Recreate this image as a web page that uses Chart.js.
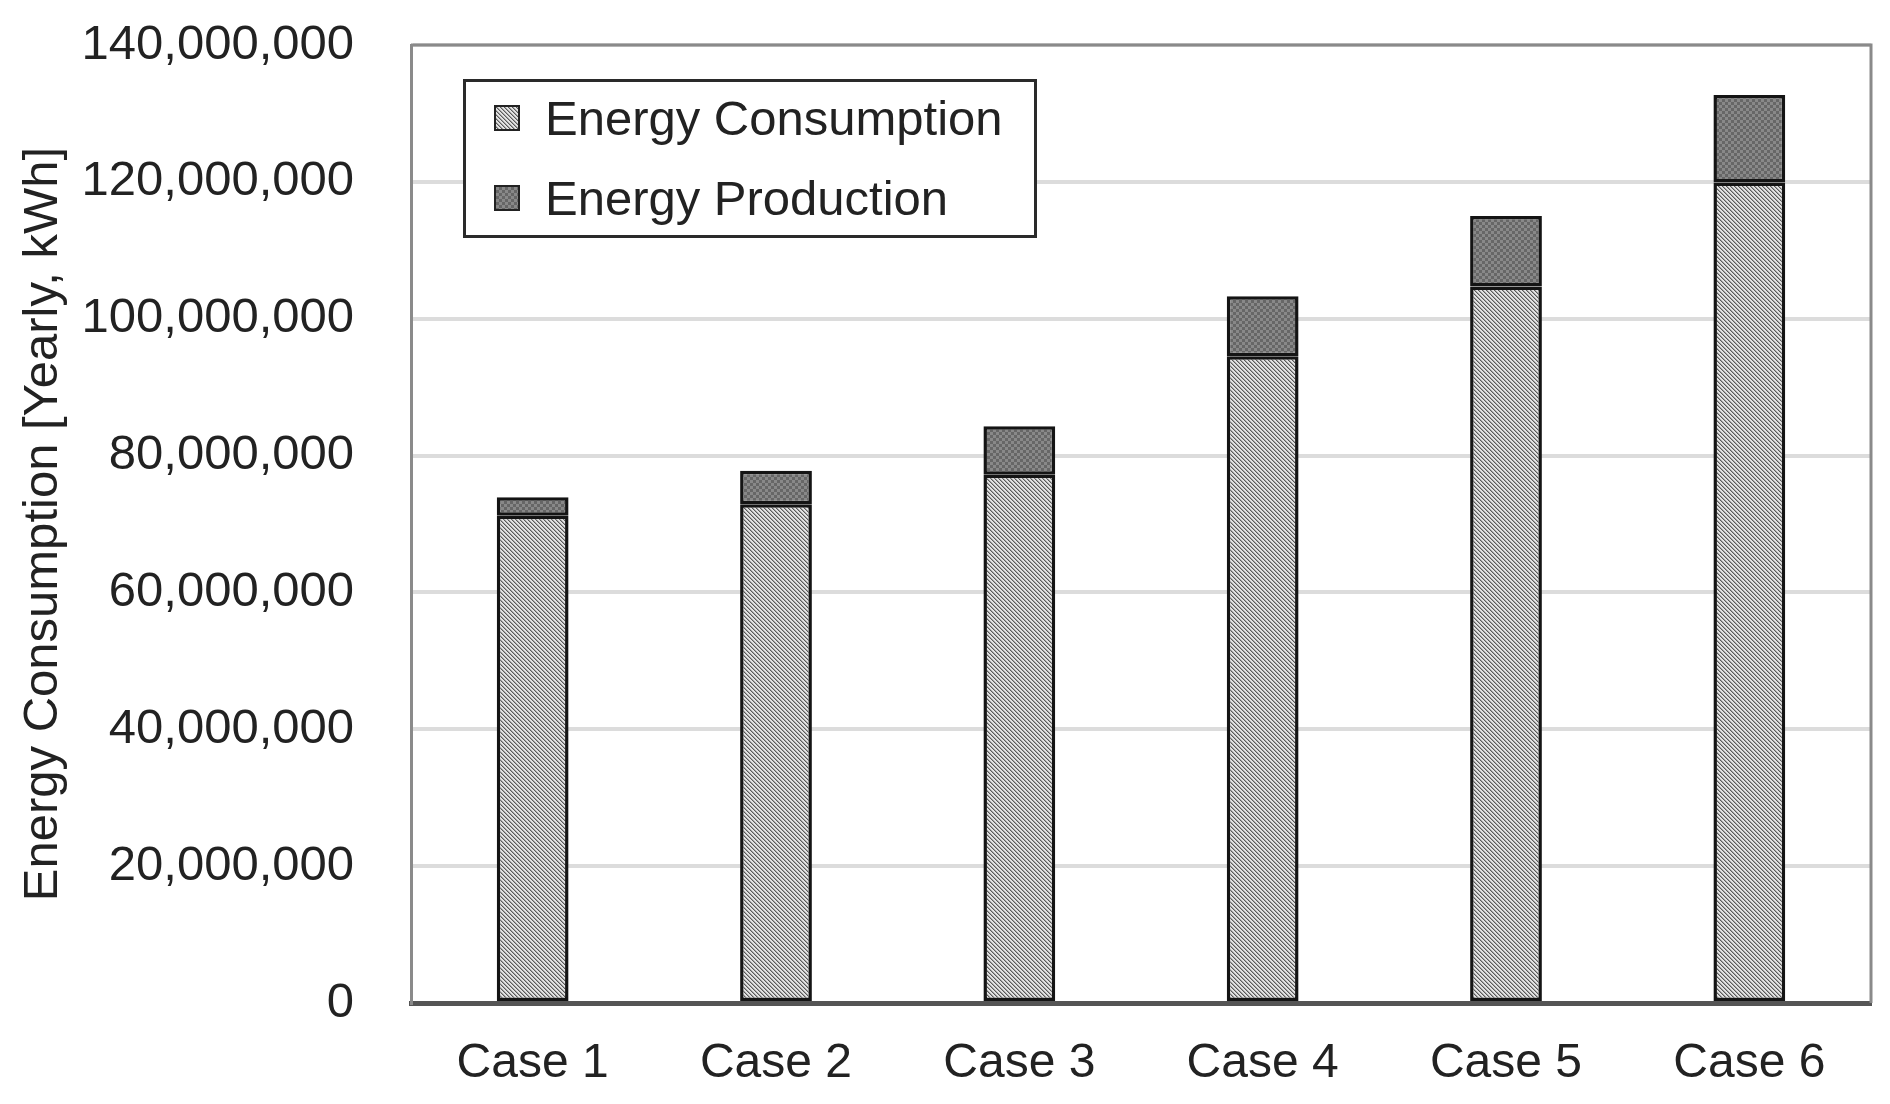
<!DOCTYPE html>
<html>
<head>
<meta charset="utf-8">
<script src="https://cdn.jsdelivr.net/npm/chart.js@4.4.1/dist/chart.umd.min.js"></script>
<style>
  html, body { margin: 0; padding: 0; background: #fff; }
  #wrap { position: relative; width: 1890px; height: 1104px; }
  #legend {
    position: absolute; left: 463px; top: 79px; width: 574px; height: 159px;
    box-sizing: border-box; border: 3px solid #2a2a2a; background: #fff;
    font-family: "Liberation Sans", Arial, sans-serif; font-size: 49px; color: #222;
  }
  #legend .item { position: absolute; left: 28px; height: 58px; display: flex; align-items: center; }
  #legend .sw { width: 22px; height: 22px; border: 2px solid #222; margin-right: 25px; }
</style>
</head>
<body>
<div id="wrap">
  <canvas id="c"></canvas>
  <div id="legend"></div>
</div>
<script>
const categories = ['Case 1', 'Case 2', 'Case 3', 'Case 4', 'Case 5', 'Case 6'];
const consumption = [71200000, 72900000, 77200000, 94500000, 104700000, 119900000];
const production = [2700000, 4900000, 7100000, 8800000, 10300000, 12800000];
const seriesNames = ['Energy Consumption', 'Energy Production'];
const yMin = 0, yMax = 140000000, yStep = 20000000;

function makeTile(size, colorAt) {
  const cv = document.createElement('canvas');
  cv.width = size; cv.height = size;
  const g = cv.getContext('2d');
  for (let y = 0; y < size; y++) {
    for (let x = 0; x < size; x++) {
      g.fillStyle = colorAt(x, y);
      g.fillRect(x, y, 1, 1);
    }
  }
  return cv;
}

// light diagonal hatch for consumption, dark checker for production
const hatchTile = makeTile(4, (x, y) => {
  const d = ((x - y) % 4 + 4) % 4;
  return d === 0 ? '#5a5a5a' : d === 1 ? '#a4a4a4' : '#e2e2e2';
});
const checkTile = makeTile(6, (x, y) => (((x / 3 | 0) + (y / 3 | 0)) % 2 ? '#666' : '#888'));

const ctx = document.getElementById('c').getContext('2d');
const hatch = ctx.createPattern(hatchTile, 'repeat');
const check = ctx.createPattern(checkTile, 'repeat');

const tiles = [hatchTile, checkTile];
const legend = document.getElementById('legend');
seriesNames.forEach((name, i) => {
  const it = document.createElement('div');
  it.className = 'item';
  it.style.top = (7 + i * 80) + 'px';
  it.innerHTML = `<span class="sw" style="background-image:url(${tiles[i].toDataURL()})"></span><span>${name}</span>`;
  legend.appendChild(it);
});

const frame = {
  id: 'frame',
  beforeDatasetsDraw(chart) {
    const { ctx, chartArea: a } = chart;
    ctx.save();
    ctx.strokeStyle = '#8a8a8a';
    ctx.lineWidth = 3;
    ctx.beginPath();
    ctx.moveTo(a.left, a.top);
    ctx.lineTo(a.right, a.top);
    ctx.lineTo(a.right, a.bottom);
    ctx.stroke();
    ctx.restore();
  }
};

const font = { family: '"Liberation Sans", Arial, sans-serif', size: 49 };

new Chart(ctx, {
  type: 'bar',
  data: {
    labels: categories,
    datasets: [
      { label: seriesNames[0], data: consumption, backgroundColor: hatch, borderColor: '#141414', borderWidth: 3.5, borderSkipped: false },
      { label: seriesNames[1], data: production, backgroundColor: check, borderColor: '#141414', borderWidth: 3.5, borderSkipped: false }
    ]
  },
  options: {
    responsive: true,
    maintainAspectRatio: false,
    animation: false,
    devicePixelRatio: 1,
    layout: { padding: { left: 0, right: 19, top: 45, bottom: 0 } },
    datasets: { bar: { categoryPercentage: 1, barPercentage: 0.295 } },
    plugins: { legend: { display: false }, tooltip: { enabled: false } },
    scales: {
      x: {
        stacked: true,
        grid: { display: false, drawTicks: false },
        border: { color: '#555', width: 5 },
        ticks: { color: '#222', font: { ...font, size: 48 }, padding: 32 },
        afterFit: (s) => { s.height = 101; }
      },
      y: {
        stacked: true,
        min: yMin, max: yMax,
        grid: { color: '#dcdcdc', lineWidth: 4, drawTicks: false },
        border: { color: '#8a8a8a', width: 3 },
        ticks: { stepSize: yStep, color: '#222', font, padding: 57, callback: (v) => v.toLocaleString('en-US') },
        title: { display: true, text: 'Energy Consumption [Yearly, kWh]', color: '#222', font, padding: { top: 14, bottom: 0 } },
        afterFit: (s) => { s.width = 411; s.paddingTop = 0; s.paddingBottom = 0; }
      }
    }
  },
  plugins: [frame]
});
</script>
</body>
</html>
